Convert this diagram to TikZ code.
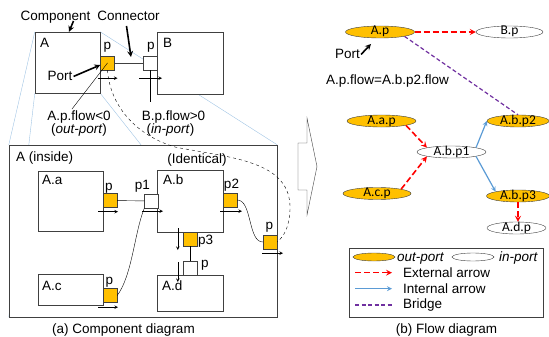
\documentclass[tikz,border=0pt]{standalone}
\usepackage{fontspec}
\setmainfont{Liberation Sans}
\newfontfamily\flowfont{Carlito}
\usetikzlibrary{positioning,shapes.geometric}
\tikzset{>=stealth}
\pgfdeclarelayer{background}
\pgfsetlayers{background,main}
\definecolor{portorange}{RGB}{255,192,0}
\definecolor{zoomblue}{RGB}{160,196,228}
\definecolor{intblue}{RGB}{91,155,213}
\definecolor{bridgepurple}{RGB}{112,48,160}
\definecolor{linegray}{RGB}{64,64,64}
\tikzstyle{comp} = [rectangle, draw=linegray, fill=white, inner sep=0pt]
\tikzstyle{outport} = [rectangle, draw=linegray, fill=portorange, minimum size=14pt, inner sep=0pt]
\tikzstyle{inport} = [outport, fill=white]
\tikzstyle{oval} = [ellipse, draw=linegray, fill=white, minimum width=69pt, minimum height=12pt,
    inner sep=0pt, text height=6pt, text depth=0pt, font=\flowfont\fontsize{13.5}{13}\selectfont]
\tikzstyle{outoval} = [oval, fill=portorange]
\tikzstyle{txt} = [anchor=base, inner sep=1pt]
\tikzstyle{flowarr} = [->, line width=0.6pt]
\tikzstyle{note} = [->, line width=1.6pt]
\tikzstyle{extarrow} = [->, red, line width=1.6pt, dash pattern=on 6pt off 3pt]
\tikzstyle{intarrow} = [->, intblue, line width=1.2pt]
\tikzstyle{bridge} = [bridgepurple, line width=1.2pt, dash pattern=on 4pt off 2.5pt]

\begin{document}
\begin{tikzpicture}[x=1pt, y=-1pt, font=\fontsize{13.5}{13}\selectfont]
  \useasboundingbox (0,0) rectangle (549,337);

  % (a) component diagram
  \node [comp, minimum width=65pt, minimum height=61pt] (A) at (67.5,62.5) {};
  \node [comp, minimum width=66pt, minimum height=62pt] (B) at (190,63) {};
  \node [comp, minimum width=268pt, minimum height=172pt] (Ain) at (143,231) {};
  \begin{pgfonlayer}{background}
    \draw[zoomblue] (A.north west) -- (Ain.north west);
    \draw[zoomblue] (A.south west) -- (Ain.south west);
    \draw[zoomblue] (A.north east) -- (Ain.north east);
    \draw[zoomblue] (A.south east) -- (Ain.south east);
  \end{pgfonlayer}
  \node [comp, minimum width=65pt, minimum height=60pt] (Aa) at (70.5,201) {};
  \node [comp, minimum width=65pt, minimum height=31pt] (Ac) at (70.5,289.5) {};
  \node [comp, minimum width=66pt, minimum height=62pt] (Ab) at (190,201) {};
  \node [comp, minimum width=66pt, minimum height=36pt] (Ad) at (190,293) {};

  \node [txt, anchor=base west, inner sep=0pt] (Alab) at (40,48) {A};
  \node [txt, anchor=base west, inner sep=0pt] (Blab) at (163,48) {B};
  \node [txt, anchor=base west, inner sep=0pt] (Ainlab) at (16,161) {A (inside)};
  \node [txt, anchor=base west, inner sep=0pt] (Aalab) at (42,184) {A.a};
  \node [txt, anchor=base west, inner sep=0pt] (Ablab) at (163,184) {A.b};
  \node [txt, anchor=base west, inner sep=0pt] (Aclab) at (42,290) {A.c};
  \node [txt, anchor=base west, inner sep=0pt] (Adlab) at (162,290) {A.d};
  \node [txt] (ident) at (197,163) {(Identical)};

  % ports
  \node [outport] (Ap) at (107.5,63) {};
  \node [inport] (Bp) at (150,63) {};
  \node [outport] (Aap) at (110,200.5) {};
  \node [inport] (p1) at (151.5,201) {};
  \node [outport] (Acp) at (110,295.5) {};
  \node [outport] (p2) at (230,200) {};
  \node [outport] (pin) at (270,242) {};
  \node [outport] (p3) at (190,239) {};
  \node [inport] (Adp) at (190,268) {};

  \node [txt] (Aplab) at (107.5,50) {p};
  \node [txt] (Bplab) at (151,50) {p};
  \node [txt] (Aaplab) at (109,190) {p};
  \node [txt] (p1lab) at (142.5,189) {p1};
  \node [txt] (p2lab) at (231.5,188) {p2};
  \node [txt] (pinlab) at (269.5,229) {p};
  \node [txt, anchor=base west, inner sep=0pt] (p3lab) at (198,244) {p3};
  \node [txt, anchor=base west, inner sep=0pt] (Adplab) at (201,267) {p};
  \node [txt] (Acplab) at (109.5,284) {p};

  % notes
  \node [txt] (compL) at (55.5,21) {Component};
  \node [txt] (connL) at (128.5,21) {Connector};
  \node [txt] (portL) at (60,81) {Port};
  \coordinate (connTip) at (131,57);
  \draw[note] ([xshift=18pt]compL.base) -- ([xshift=1.5pt]A.north);
  \draw[note] ([xshift=-2pt,yshift=-5pt]connL.base) -- (connTip);
  \draw[note] (portL.east) -- ([yshift=-2pt]Ap.west);

  \node [txt] (flowA) at (79,120) {A.p.flow<0};
  \node [txt] (outA) at (79,133) {(\textit{out-port})};
  \node [txt] (flowB) at (173.5,120) {B.p.flow>0};
  \node [txt] (inB) at (170.5,133) {(\textit{in-port})};
  \coordinate (Bpend) at (150,102);

  % connectors
  \draw[linegray] (Ap) -- (Bp);
  \draw (Ap.center) -- ([xshift=-7pt]flowA.north);
  \draw (Bp.south) -- (Bpend);
  \draw (Aap) -- (p1);
  \draw (Acp.east) .. controls +(15,-20) and +(-10,25) .. (p1.south west);
  \draw (p2.east) .. controls +(15,0) and +(-15,0) .. (pin.west);
  \draw (p3) -- (Adp);
  \draw[dashed] (Ap.south) .. controls (110,105) and (135,135) .. (175,147)
    .. controls (230,158) and (292,160) .. (290,210)
    .. controls (289,228) and (284,236) .. (pin.east);

  % flow directions
  \draw[flowarr] ([shift={(-10,8)}]Ap.south) -- ++(20,0);
  \draw[flowarr] ([shift={(-11,8)}]Bp.south) -- ++(23,0);
  \draw[flowarr] ([shift={(-12,4)}]Aap.south) -- ++(20,0);
  \draw[flowarr] ([shift={(-9.5,3)}]p1.south) -- ++(21,0);
  \draw[flowarr] ([shift={(-12,4.5)}]Acp.south) -- ++(20,0);
  \draw[flowarr] ([shift={(-10,4)}]p2.south) -- ++(22,0);
  \draw[flowarr] ([shift={(-8,4)}]pin.south) -- ++(21,0);
  \draw[flowarr] ([shift={(-5,-11)}]p3.west) -- ++(0,22);
  \draw[flowarr] ([shift={(-5,-6)}]Adp.west) -- ++(0,20);

  \node [txt] (capA) at (123.5,333) {(a) Component diagram};

  % big arrow
  \draw[linegray, fill=white] (298,143) -- (307,143) -- (307,118) -- (317,166.5)
    -- (307,215) -- (307,190) -- (298,190) -- cycle;

  % (b) flow diagram
  \node [outoval] (fAp) at (380,32) {A.p};
  \node [oval, minimum width=67pt] (fBp) at (509.5,32) {B.p};
  \node [outoval] (fAap) at (381.5,121) {A.a.p};
  \node [oval] (fAbp1) at (451.5,152) {A.b.p1};
  \node [outoval, minimum width=68pt] (fAcp) at (377,193.5) {A.c.p};
  \node [outoval, minimum width=62pt] (fAbp2) at (518,121) {A.b.p2};
  \node [outoval, minimum width=63pt] (fAbp3) at (518,196) {A.b.p3};
  \node [oval, minimum width=59pt] (fAdp) at (516.5,228) {A.d.p};

  \node [txt] (fportL) at (347.5,59) {Port};
  \coordinate (fportTip) at (371,44);
  \draw[note] (fportL.east) -- (fportTip);
  \node [txt] (eq) at (387.5,84.5) {A.p.flow=A.b.p2.flow};

  \draw[extarrow] (fAp) -- (fBp);
  \draw[bridge] (fAp.south east) -- (fAbp2.north);
  \draw[extarrow] (fAap.south east) -- (fAbp1.north west);
  \draw[extarrow] (fAcp.north east) -- (fAbp1.south west);
  \draw[intarrow] (fAbp1.north east) -- (fAbp2.west);
  \draw[intarrow] (fAbp1.south east) -- (fAbp3.north west);
  \draw[extarrow] (fAbp3.south) -- (fAbp3.south |- fAdp.north);

  % legend
  \node [draw=linegray, minimum width=194pt, minimum height=69pt, inner sep=0pt] (legend) at (446,282.5) {};
  \node [outoval, minimum width=42pt, minimum height=8pt, text height=0pt] (lgOut) at (374,257) {};
  \node [txt, anchor=base west, inner sep=0pt] (lgOutT) at (397,261.5) {\textit{out-port}};
  \node [oval, minimum width=42pt, minimum height=8pt, text height=0pt] (lgIn) at (473,257) {};
  \node [txt, anchor=base west, inner sep=0pt] (lgInT) at (499,261.5) {\textit{in-port}};
  \node [txt, anchor=base west, inner sep=0pt] (lgExt) at (403,277.5) {External arrow};
  \node [txt, anchor=base west, inner sep=0pt] (lgInt) at (403,293.5) {Internal arrow};
  \node [txt, anchor=base west, inner sep=0pt] (lgBr) at (403,308.5) {Bridge};
  \coordinate (lgL) at (355,272);
  \coordinate (lgR) at (392,272);
  \draw[extarrow] (lgL |- lgExt.center) -- (lgR |- lgExt.center);
  \draw[intarrow] (lgL |- lgInt.center) -- (lgR |- lgInt.center);
  \draw[bridge] (lgL |- lgBr.center) -- (lgR |- lgBr.center);

  \node [txt] (capB) at (446.5,333) {(b) Flow diagram};
\end{tikzpicture}
\end{document}
